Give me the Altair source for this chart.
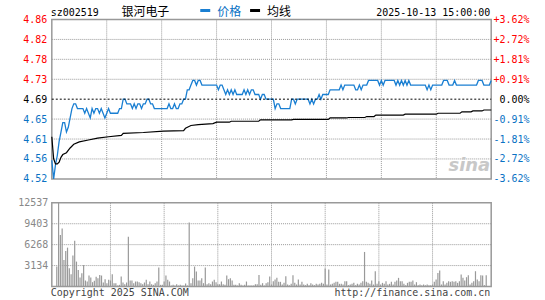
import altair as alt
import pandas as pd

# ---------------- data ----------------
stock_code = "sz002519"
stock_name = "银河电子"
timestamp = "2025-10-13 15:00:00"
legend_names = ["价格", "均线"]
copyright_text = "Copyright 2025 SINA.COM"
site_text = "http://finance.sina.com.cn"
preclose = 4.69

price_ticks = [4.5202, 4.5627, 4.6051, 4.6476, 4.69, 4.7324, 4.7749, 4.8173, 4.8598]
price_tick_labels = ["4.52", "4.56", "4.61", "4.65", "4.69", "4.73", "4.78", "4.82", "4.86"]
pct_tick_labels = ["-3.62%", "-2.72%", "-1.81%", "-0.91%", "0.00%", "+0.91%", "+1.81%", "+2.72%", "+3.62%"]
time_ticks = [0, 30, 60, 90, 120, 150, 180, 210, 240]
time_labels = ["09:30", "10:00", "10:30", "11:00", "11:30", "13:30", "14:00", "14:30", "15:00"]
vol_ticks = [3134, 6268, 9403, 12537]

# price per minute (t = 0 .. 240)
price = [
    4.56, 4.52, 4.55, 4.57, 4.60, 4.62, 4.64, 4.64, 4.62, 4.63,
    4.65, 4.67, 4.68, 4.68, 4.67, 4.67, 4.67, 4.67, 4.66, 4.67,
    4.66, 4.65, 4.67, 4.66, 4.67, 4.67, 4.66, 4.67, 4.66, 4.65,
    4.66, 4.67, 4.66, 4.66, 4.66, 4.66, 4.66, 4.67, 4.67, 4.69,
    4.69, 4.68, 4.68, 4.68, 4.67, 4.68, 4.67, 4.68, 4.68, 4.67,
    4.68, 4.68, 4.69, 4.69, 4.68, 4.68, 4.67, 4.67, 4.67, 4.67,
    4.67, 4.67, 4.67, 4.67, 4.68, 4.67, 4.67, 4.68, 4.67, 4.67,
    4.68, 4.68, 4.69, 4.69, 4.71, 4.71, 4.72, 4.73, 4.73, 4.72,
    4.73, 4.73, 4.72, 4.72, 4.72, 4.72, 4.72, 4.72, 4.72, 4.72,
    4.72, 4.71, 4.72, 4.72, 4.71, 4.70, 4.71, 4.70, 4.71, 4.70,
    4.71, 4.70, 4.70, 4.70, 4.70, 4.71, 4.70, 4.71, 4.70, 4.71,
    4.71, 4.70, 4.70, 4.70, 4.69, 4.70, 4.70, 4.69, 4.69, 4.69,
    4.69, 4.69, 4.67, 4.68, 4.68, 4.67, 4.67, 4.67, 4.67, 4.67,
    4.67, 4.69, 4.69, 4.68, 4.69, 4.69, 4.69, 4.69, 4.69, 4.69,
    4.69, 4.68, 4.69, 4.68, 4.69, 4.69, 4.70, 4.69, 4.70, 4.70,
    4.70, 4.70, 4.71, 4.71, 4.71, 4.71, 4.71, 4.71, 4.72, 4.71,
    4.72, 4.72, 4.72, 4.72, 4.72, 4.72, 4.71, 4.71, 4.72, 4.71,
    4.72, 4.72, 4.72, 4.73, 4.73, 4.73, 4.73, 4.73, 4.73, 4.72,
    4.73, 4.72, 4.73, 4.73, 4.73, 4.73, 4.73, 4.73, 4.72, 4.73,
    4.72, 4.73, 4.72, 4.73, 4.72, 4.73, 4.72, 4.72, 4.72, 4.72,
    4.72, 4.72, 4.72, 4.72, 4.72, 4.71, 4.72, 4.71, 4.72, 4.72,
    4.72, 4.72, 4.72, 4.72, 4.73, 4.73, 4.73, 4.72, 4.72, 4.72,
    4.73, 4.72, 4.72, 4.72, 4.72, 4.72, 4.72, 4.72, 4.72, 4.72,
    4.72, 4.72, 4.72, 4.73, 4.73, 4.73, 4.72, 4.72, 4.72, 4.72,
    4.73,
]

# average-price line, read at the minutes where it changes
avg_t = [0, 1, 2, 3, 4, 5, 6, 8, 10, 12, 15, 20, 25, 31, 38, 39, 50, 61, 72, 73,
         76, 80, 88, 90, 97, 98, 113, 114, 131, 132, 151, 152, 161, 162, 171, 172,
         176, 177, 192, 193, 210, 211, 223, 224, 229, 230, 235, 236, 240]
avg_v = [4.610, 4.563, 4.552, 4.552, 4.556, 4.566, 4.572, 4.576, 4.586, 4.594,
         4.599, 4.603, 4.607, 4.610, 4.613, 4.617, 4.619, 4.622, 4.623, 4.628,
         4.634, 4.636, 4.638, 4.641, 4.641, 4.643, 4.643, 4.646, 4.646, 4.647,
         4.647, 4.650, 4.650, 4.651, 4.651, 4.653, 4.653, 4.656, 4.656, 4.658,
         4.658, 4.660, 4.660, 4.663, 4.663, 4.665, 4.665, 4.667, 4.667]

# volume per minute (t = 0 .. 240)
volume = [
    2985, 12537, 7711, 8706, 3980, 5323, 5821, 2736, 1841, 4627,
    6866, 3731, 2488, 1343, 1990, 3234, 896, 746, 1642, 1343,
    647, 846, 1443, 1244, 1741, 1642, 597, 1095, 498, 995,
    896, 1841, 498, 498, 149, 249, 1493, 597, 348, 597,
    7463, 896, 896, 498, 746, 746, 647, 498, 348, 597,
    995, 348, 746, 348, 249, 498, 746, 2836, 249, 249,
    746, 1642,
    995, 746, 149, 249, 149, 348, 149, 249, 149, 149, 448, 149,
    9602,
    498, 1244, 2985, 2239, 896, 896, 1244, 498, 2836, 348,
    498, 348, 746, 995, 647, 348, 348, 746, 348, 249,
    1642, 1095, 1244, 896, 249, 249, 149, 498, 249, 149,
    249, 746, 149, 149, 149, 149, 348, 348, 1741, 249,
    498, 149, 498, 647, 1493,
    299, 796, 1045, 1294, 697, 697, 299, 547, 1542, 299,
    199, 398, 1692, 547, 299, 1045, 299, 697, 299, 199,
    398, 199, 498, 299, 199, 398, 299, 398, 547, 398,
    2687, 299, 2537, 299, 398, 547, 697, 697, 398, 398,
    299, 796, 796, 199, 299, 398, 547, 199, 398, 299,
    547, 796, 5174, 697, 547, 398, 896, 299, 2289, 398,
    796, 299, 547, 398, 796, 299, 398, 697, 299, 697,
    896, 1294, 796, 796, 398, 199, 547, 697, 697, 896,
    299, 647, 199, 299, 199, 299, 199, 299, 199, 199,
    299, 697, 1045, 2040, 2388, 299, 796, 299, 547, 796,
    697, 796, 697, 796, 547, 796, 1791, 1294, 896, 1393,
    1692, 299, 547, 796, 2289, 1045, 796, 1692, 1642, 199,
    1692,
]

assert len(price) == 241, len(price)
assert len(volume) == 241, len(volume)

# ---------------- style ----------------
MONO = "DejaVu Sans Mono"
CJK = "Noto Sans CJK SC"
BLUE_LINE = "#1a7fd2"
BLUE_TXT = "#0a72c4"
RED = "#ff0000"
GRID = "#999999"

W, H_TOP, H_VOL = 441, 160, 84

lo, hi = price_ticks[0], price_ticks[-1]
step = (hi - lo) / (len(price_ticks) - 1)


def js_array(items):
    return "[" + ",".join("'" + s + "'" for s in items) + "]"


price_label_expr = f"{js_array(price_tick_labels)}[round((datum.value - {lo}) / {step})]"
pct_label_expr = f"{js_array(pct_tick_labels)}[round((datum.value - {lo}) / {step})]"
time_label_expr = f"{js_array(time_labels)}[round(datum.value / 30)]"

label_color = {
    "condition": [
        {"test": f"datum.value > {preclose + 0.004}", "value": RED},
        {"test": f"datum.value < {preclose - 0.004}", "value": BLUE_TXT},
    ],
    "value": "#000000",
}

price_df = pd.DataFrame({"t": list(range(len(price))), "p": price})
avg_df = pd.DataFrame({"t": avg_t, "a": avg_v})
vol_df = pd.DataFrame({"t": list(range(len(volume))), "v": volume})
xgrid_df = pd.DataFrame({"t": time_ticks[1:-1]})
pgrid_df = pd.DataFrame({"g": [v for v in price_ticks[1:-1] if v != preclose]})
vgrid_df = pd.DataFrame({"g": vol_ticks[:-1]})

x_scale = alt.Scale(domain=[time_ticks[0], time_ticks[-1]], nice=False, zero=False)
y_scale = alt.Scale(domain=[lo, hi], nice=False, zero=False)
v_scale = alt.Scale(domain=[0, vol_ticks[-1]], nice=False)

x_axis_top = alt.Axis(values=time_ticks, labelExpr=time_label_expr, labelFlush=False,
                      labelColor=BLUE_TXT, labelPadding=5, grid=False, title=None)
left_axis = alt.Axis(values=price_ticks, labelExpr=price_label_expr, labelColor=label_color,
                     labelPadding=5, grid=False, title=None)
right_axis = alt.Axis(values=price_ticks, labelExpr=pct_label_expr, labelColor=label_color,
                      orient="right", labelAlign="right", labelPadding=38, grid=False, title=None)

GRID_STYLE = dict(color=GRID, strokeDash=[1, 1], strokeWidth=1)

x_grid = alt.Chart(xgrid_df).mark_rule(**GRID_STYLE).encode(
    x=alt.X("t:Q", scale=x_scale, axis=None))
p_grid = alt.Chart(pgrid_df).mark_rule(**GRID_STYLE).encode(
    x=alt.value(0), x2=alt.value(W),
    y=alt.Y("g:Q", scale=y_scale, axis=None))
v_grid = alt.Chart(vgrid_df).mark_rule(**GRID_STYLE).encode(
    x=alt.value(0), x2=alt.value(W),
    y=alt.Y("g:Q", scale=v_scale, axis=None))

price_line = alt.Chart(price_df).mark_line(color=BLUE_LINE, strokeWidth=1.3).encode(
    x=alt.X("t:Q", scale=x_scale, axis=x_axis_top),
    y=alt.Y("p:Q", scale=y_scale, axis=left_axis),
)
right_layer = alt.Chart(price_df).mark_line(opacity=0).encode(
    x=alt.X("t:Q", scale=x_scale, axis=None),
    y=alt.Y("p:Q", scale=y_scale, axis=right_axis),
)
avg_line = alt.Chart(avg_df).mark_line(color="black", strokeWidth=1.2).encode(
    x=alt.X("t:Q", scale=x_scale, axis=None),
    y=alt.Y("a:Q", scale=y_scale, axis=None),
)
pre_rule = alt.Chart(pd.DataFrame({"pc": [preclose]})).mark_rule(
    color="black", strokeDash=[2, 2], strokeWidth=1
).encode(x=alt.value(0), x2=alt.value(W), y=alt.Y("pc:Q", scale=y_scale, axis=None))


def label(text, x, y, align="left", font=MONO, size=10, color="black", **kw):
    return alt.Chart(pd.DataFrame({"s": [text]})).mark_text(
        align=align, baseline="alphabetic", font=font, fontSize=size, color=color, **kw
    ).encode(x=alt.value(x), y=alt.value(y), text="s:N")


def swatch(x, color):
    return alt.Chart(pd.DataFrame({"s": [0]})).mark_rule(color=color, strokeWidth=3).encode(
        x=alt.value(x), x2=alt.value(x + 10), y=alt.value(-9)
    )


top = alt.layer(
    x_grid,
    p_grid,
    label("sina", 440, 152, align="right", font="DejaVu Sans", size=18, color="#c8c8c8",
          fontStyle="italic", fontWeight="bold"),
    price_line,
    avg_line,
    pre_rule,
    right_layer,
    label(stock_code, -1, -3),
    label(stock_name, 70, -3, font=CJK, size=12),
    swatch(149, BLUE_LINE),
    label(legend_names[0], 166, -3, font=CJK, size=12, color=BLUE_TXT),
    swatch(199, "black"),
    label(legend_names[1], 216, -3, font=CJK, size=12),
    label(timestamp, 440, -3, align="right"),
).resolve_axis(y="independent").properties(width=W, height=H_TOP)

vol_bars = alt.Chart(vol_df).mark_bar(color="#999999", size=1.2).encode(
    x=alt.X("t:Q", scale=x_scale, axis=None),
    y=alt.Y("v:Q", scale=v_scale,
            axis=alt.Axis(values=vol_ticks, format="d", labelColor="#888888",
                          labelPadding=4, grid=False, title=None)),
)

bottom = alt.layer(
    x_grid,
    v_grid,
    vol_bars,
    label(copyright_text, -1, 94, color="#444444"),
    label(site_text, 440, 94, align="right", color="#444444"),
).resolve_axis(y="independent").properties(width=W, height=H_VOL)

chart = alt.vconcat(top, bottom, spacing=12).properties(
    padding={"left": 17, "top": 5, "right": 15, "bottom": 0}
).configure_axis(
    labelFont=MONO, labelFontSize=10, ticks=False, domain=False,
).configure_view(stroke="#999999", strokeWidth=1.5)

chart.save("out.html", embed_options={"renderer": "svg", "actions": False})
